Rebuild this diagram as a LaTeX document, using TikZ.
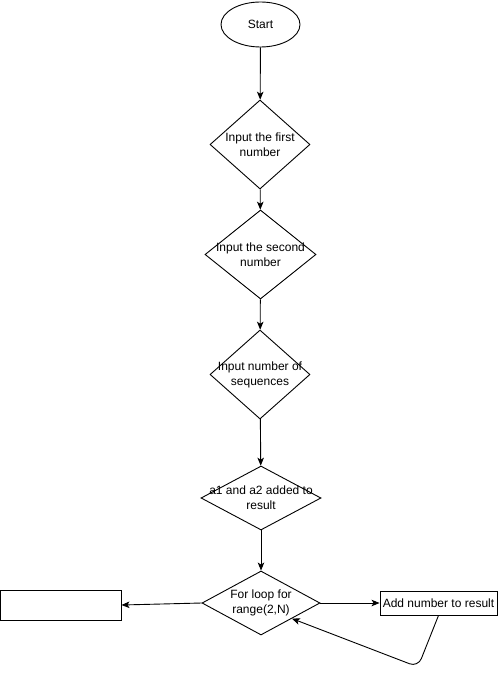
\documentclass[tikz,border=0pt]{standalone}
\usepackage{fontspec}
\setmainfont{Liberation Sans}
\usetikzlibrary{shapes.geometric,arrows.meta,calc}
\begin{document}
\begin{tikzpicture}[x=1pt,y=-1pt,
  font=\fontsize{12}{15}\selectfont,
  line width=0.9pt,
  arr/.style={-{Stealth[length=8pt,width=6.5pt,inset=2pt]}},
  dia/.style={diamond,draw,inner sep=0pt},
  box/.style={rectangle,draw,inner sep=0pt},
]
\fill[white] (0,0) rectangle (502,679);
\useasboundingbox (0,0) rectangle (502,679);

\node[ellipse,draw,minimum width=79pt,minimum height=45pt,inner sep=0pt] (start) at (260.5,24.5) {Start};

\node[dia,minimum width=100pt,minimum height=89pt,
  label={[align=center]center:Input the first\\number}] (d1) at (260,144.5) {};
\node[dia,minimum width=111pt,minimum height=89pt,
  label={[align=center]center:Input the second\\number}] (d2) at (260.5,254.5) {};
\node[dia,minimum width=100pt,minimum height=89pt,
  label={[align=center]center:Input number of\\sequences}] (d3) at (260,374.5) {};
\node[dia,minimum width=120pt,minimum height=64pt,
  label={[align=center]center:a1 and a2 added to\\result}] (d4) at (261,498) {};
\node[dia,minimum width=118pt,minimum height=64pt,
  label={[align=center]center:For loop for\\range(2,N)}] (d5) at (261,603) {};

\node[box,minimum width=117pt,minimum height=24pt] (add) at (438.5,603) {Add number to result};
\node[box,minimum width=121pt,minimum height=30pt] (out) at (60.5,605) {};

\draw[arr] (start) -- (d1);
\draw[arr] (d1) -- (d2);
\draw[arr] (d2) -- (d3);
\draw[arr] (d3) -- (d4);
\draw[arr] (d4) -- (d5);
\draw[arr] (d5.east) -- (add.west);
\draw[arr] (d5.west) -- (out.east);

\coordinate (bend) at (418,667);
\coordinate (tip) at ($(d5.east)!0.48!(d5.south)$);
\draw[arr,rounded corners=9pt] (add.south) -- (bend) -- (tip);
\end{tikzpicture}
\end{document}
